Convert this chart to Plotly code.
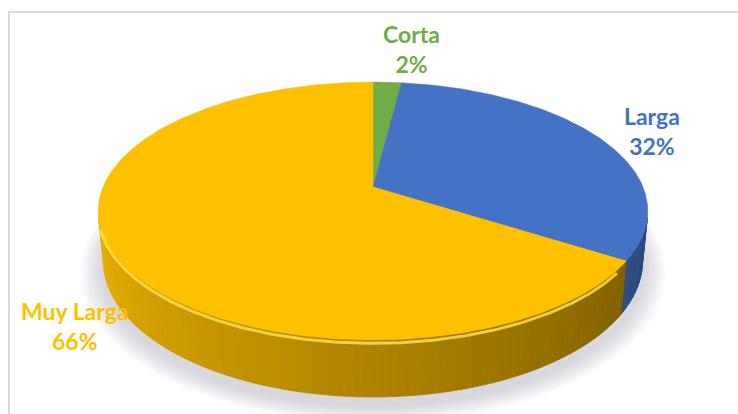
import numpy as np
import plotly.graph_objects as go

# Shares of each duration category (percent)
categories = ["Corta", "Larga", "Muy Larga"]
values = [2, 32, 66]
top_colors = ["#70AD47", "#4472C4", "#FFC000"]
label_text = [f"{c}<br>{v}%" for c, v in zip(categories, values)]

# Label placement (pixel units of the hidden axes)
label_x = [411, 652, 75]
label_y = [49, 131, 326]

# Viewing setup for the tilted disc
W, H = 738, 414
TILT = np.radians(26.7)
DIST = 4.80
SCALE = 1329.0
SX = 0.975
CX, CY = 373.0, 187.0
THICK = 0.204


def project(X, Y, Z):
    c, s = np.cos(TILT), np.sin(TILT)
    rx = np.asarray(X, dtype=float)
    ry = np.asarray(Y, dtype=float) + DIST * c
    rz = np.asarray(Z, dtype=float) - DIST * s
    depth = ry * c - rz * s
    up = ry * s + rz * c
    return CX + SX * SCALE * rx / depth, CY - SCALE * up / depth


def rim(theta_deg, z, r=1.0):
    t = np.radians(theta_deg)
    return project(r * np.sin(t), r * np.cos(t), np.full_like(t, z, dtype=float))


def hex_rgb(h):
    h = h.lstrip("#")
    return tuple(int(h[i:i + 2], 16) for i in (0, 2, 4))


def shade(h, f):
    r, g, b = hex_rgb(h)
    return f"rgb({min(255, int(r * f))},{min(255, int(g * f))},{min(255, int(b * f))})"


fig = go.Figure()

# soft shadow beneath the disc
for i in range(7, 0, -1):
    t = np.linspace(0, 360, 241)
    sx, sy = rim(t, -THICK - 0.02, r=1.0 + 0.012 * i)
    fig.add_trace(go.Scatter(
        x=sx, y=sy + 3, fill="toself", mode="lines",
        line=dict(width=0), fillcolor="rgba(110,110,140,0.04)",
        hoverinfo="skip", showlegend=False))

# slice boundaries in degrees, clockwise from 12 o'clock
total = float(sum(values))
bounds = np.concatenate([[0.0], np.cumsum(values) / total * 360.0])

# visible part of the side wall (faces the viewer)
limit = np.degrees(np.arccos(-1.0 / (DIST * np.cos(TILT))))
vis_lo, vis_hi = limit, 360.0 - limit

for k, col in enumerate(top_colors):
    a0, a1 = max(bounds[k], vis_lo), min(bounds[k + 1], vis_hi)
    if a1 <= a0:
        continue
    n = max(1, int(np.ceil((a1 - a0) / 1.5)))
    edges = np.linspace(a0, a1, n + 1)
    for e0, e1 in zip(edges[:-1], edges[1:]):
        tt = np.linspace(e0, e1, 4)
        tx, ty = rim(tt, 0.0)
        bx, by = rim(tt[::-1], -THICK)
        mid = 0.5 * (e0 + e1)
        f = 0.5 + (mid - 120.0) / (256.0 - 120.0) * 0.42
        if col == "#4472C4":
            f += 0.17
        f = float(np.clip(f, 0.35, 0.95))
        c = shade(col, f)
        fig.add_trace(go.Scatter(
            x=np.concatenate([tx, bx, tx[:1]]),
            y=np.concatenate([ty, by, ty[:1]]),
            fill="toself", mode="lines", line=dict(width=0.8, color=c),
            fillcolor=c, hoverinfo="skip", showlegend=False))

# top faces of the slices
for k, col in enumerate(top_colors):
    tt = np.linspace(bounds[k], bounds[k + 1], max(3, int((bounds[k + 1] - bounds[k]) * 2)))
    ax, ay = project(0.0, 0.0, 0.0)
    rx, ry = rim(tt, 0.0)
    fig.add_trace(go.Scatter(
        x=np.concatenate([[ax], rx, [ax]]),
        y=np.concatenate([[ay], ry, [ay]]),
        fill="toself", mode="lines", line=dict(width=0.6, color=col),
        fillcolor=col, hoverinfo="skip", showlegend=False,
        name=categories[k]))

# bevel highlight along the front rim of the large slice
a0, a1 = max(bounds[2], vis_lo), min(bounds[3], vis_hi)
tt = np.linspace(a0 + 4, a1 - 4, 200)
hx, hy = rim(tt, -0.012)
fig.add_trace(go.Scatter(
    x=hx, y=hy, mode="lines", line=dict(width=3, color="rgba(255,222,80,0.85)"),
    hoverinfo="skip", showlegend=False))

# data labels
for txt, lx, ly, col in zip(label_text, label_x, label_y, top_colors):
    fig.add_annotation(
        x=lx, y=ly, xref="x", yref="y", text=f"<b>{txt}</b>", showarrow=False,
        font=dict(family="Lato", size=23, color=col), align="center",
        xanchor="center", yanchor="middle")

# chart frame
fig.add_shape(type="rect", xref="x", yref="y", x0=9, y0=12, x1=W + 5, y1=H + 5,
              line=dict(color="#D9D9D9", width=2), layer="below")

fig.update_layout(
    width=W, height=H, margin=dict(l=0, r=0, t=0, b=0),
    paper_bgcolor="white", plot_bgcolor="white",
    xaxis=dict(range=[0, W], visible=False, fixedrange=True),
    yaxis=dict(range=[H, 0], visible=False, fixedrange=True),
    showlegend=False,
)

fig.write_html("out.html")
